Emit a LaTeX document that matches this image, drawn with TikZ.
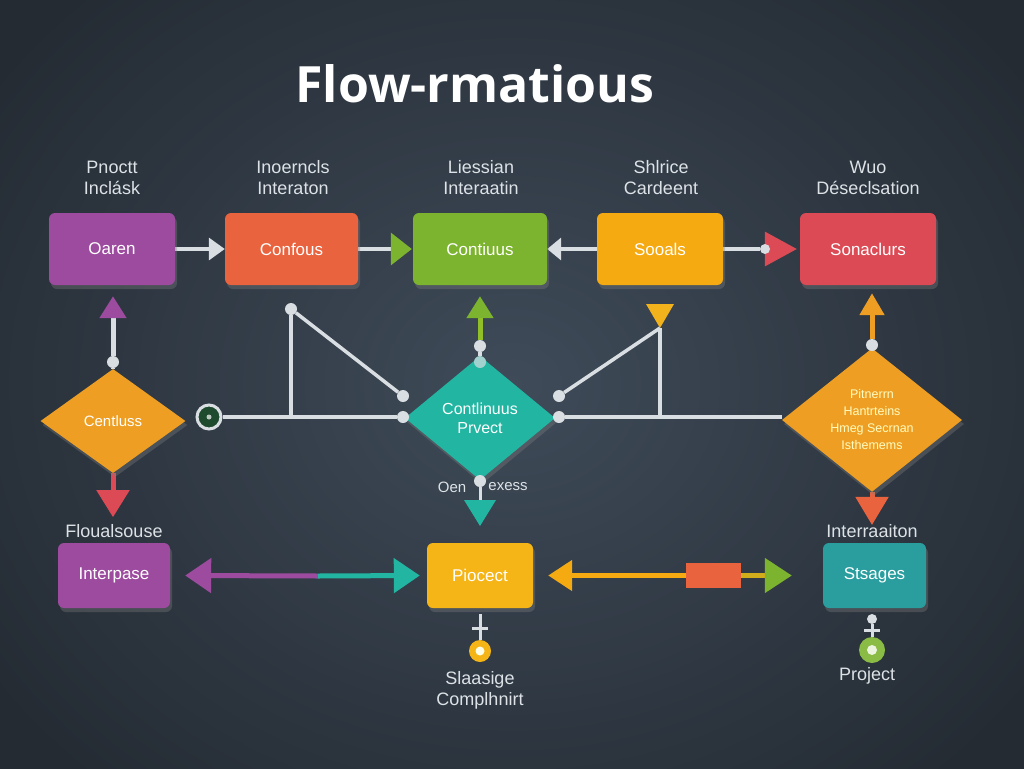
\documentclass[tikz,border=0pt]{standalone}
\usepackage{fontspec}
\setmainfont{Liberation Sans}
\newfontfamily\titlefont{Open Sans}
\usetikzlibrary{shapes.geometric,arrows.meta,shadows}
\definecolor{bgin}{HTML}{3F4B59}
\definecolor{bgout}{HTML}{242B33}
\definecolor{lbl}{HTML}{DDE2E6}
\definecolor{wire}{HTML}{D9DEE2}
\definecolor{cpurple}{HTML}{9C4B9F}
\definecolor{corange}{HTML}{E9633F}
\definecolor{cgreen}{HTML}{7DB42F}
\definecolor{cyellow}{HTML}{F5AA12}
\definecolor{cred}{HTML}{DC4B55}
\definecolor{cdia}{HTML}{EE9F23}
\definecolor{cteal}{HTML}{22B6A2}
\definecolor{cteal2}{HTML}{2A9E9F}
\definecolor{cyellow2}{HTML}{F6B517}
\definecolor{dgreen}{HTML}{1E4A2E}
\pgfdeclarelayer{back}
\pgfdeclarelayer{wires}
\pgfsetlayers{back,wires,main}
\begin{document}
\begin{tikzpicture}[x=1pt,y=-1pt,
  box/.style={rounded corners=6pt, minimum height=72pt, inner sep=0pt, text=white,
    font=\fontsize{17}{20}\selectfont,
    drop shadow={opacity=0.35, shadow xshift=2pt, shadow yshift=-4pt}},
  sbox/.style={box, minimum height=65pt},
  lbl/.style={text=lbl, font=\fontsize{18}{21}\selectfont, align=center, inner sep=0pt},
  dot/.style={circle, fill=wire, inner sep=0pt, minimum size=12pt},
  wire/.style={draw=wire, line width=3.5pt},
  dia/.style={diamond, inner sep=0pt, align=center, text=white,
    drop shadow={opacity=0.35, shadow xshift=2pt, shadow yshift=-4pt}},
  stem/.style={line width=5pt},
]
\useasboundingbox (0,0) rectangle (1024,768);
\begin{pgfonlayer}{back}
\shade[inner color=bgin, outer color=bgout] (-120,-150) rectangle (1144,918);
\end{pgfonlayer}

% title
\node[text=white, font=\titlefont\bfseries\fontsize{50}{60}\selectfont] (title) at (475,84) {Flow-rmatious};

% top labels
\node[lbl] (l1) at (112,178) {Pnoctt\\Inclásk};
\node[lbl] (l2) at (293,178) {Inoerncls\\Interaton};
\node[lbl] (l3) at (481,178) {Liessian\\Interaatin};
\node[lbl] (l4) at (661,178) {Shlrice\\Cardeent};
\node[lbl] (l5) at (868,178) {Wuo\\Déseclsation};

% top boxes
\node[box, fill=cpurple, minimum width=126pt] (b1) at (112,249) {Oaren};
\node[box, fill=corange, minimum width=133pt] (b2) at (291.5,249) {Confous};
\node[box, fill=cgreen, minimum width=134pt] (b3) at (480,249) {Contiuus};
\node[box, fill=cyellow, minimum width=126pt] (b4) at (660,249) {Sooals};
\node[box, fill=cred, minimum width=136pt] (b5) at (868,249) {Sonaclurs};

% diamonds
\node[dia, fill=cdia, minimum width=145pt, minimum height=104pt,
  font=\fontsize{15}{18}\selectfont] (d1) at (113,421) {Centluss};
\node[dia, fill=cteal, minimum width=150pt, minimum height=124pt,
  font=\fontsize{16}{19}\selectfont] (d2) at (480,418) {Contlinuus\\Prvect};
\node[dia, fill=cdia, minimum width=180pt, minimum height=136pt, text=yellow!25,
  font=\fontsize{12.5}{17}\selectfont] (d3) at (872,420) {Pitnerrn\\Hantrteins\\Hmeg Secrnan\\Isthemems};

% dots
\node[dot] (dt1) at (113,362) {};
\node[circle, fill=dgreen, draw=wire, line width=3pt, minimum size=24pt, inner sep=0pt] (gc) at (209,417) {};
\fill[white!70!dgreen] (gc) circle (2.5pt);
\node[dot] (pA) at (291,309) {};
\node[dot] (pB) at (403,396) {};
\node[dot] (pC) at (403,417) {};
\node[dot] (dt2) at (480,346) {};
\node[dot, fill=wire!70!cteal] (dt2b) at (480,362) {};
\node[dot] (pD) at (559,396) {};
\node[dot] (pE) at (559,417) {};
\node[dot] (dt3) at (872,345) {};
\node[dot] (dt4) at (480,481) {};
\node[dot, minimum size=10pt] (dt5) at (765,249) {};
\node[dot, minimum size=10pt] (dt6) at (872,619) {};
\coordinate (J1) at (291,417);
\coordinate (Q) at (660,328);
\coordinate (J2) at (660,417);

% small texts by teal bottom
\node[text=lbl, font=\fontsize{15}{18}\selectfont] (oen) at (452,487) {Oen};
\node[text=lbl, font=\fontsize{15}{18}\selectfont] (exess) at (508,487) {exess};

% bottom labels and boxes
\node[lbl] (l6) at (114,531) {Floualsouse};
\node[lbl] (l7) at (872,531) {Interraaiton};
\node[sbox, fill=cpurple, minimum width=112pt] (b6) at (114,575.5) {Interpase};
\node[sbox, fill=cyellow2, minimum width=106pt] (b7) at (480,575.5) {Piocect};
\node[sbox, fill=cteal2, minimum width=103pt] (b8) at (874.5,575.5) {Stsages};
\node[fill=corange, minimum width=55pt, minimum height=25pt, inner sep=0pt] (R) at (713.5,575.5) {};
\coordinate (M1) at (318,576);

% bottom circles
\node[circle, fill=cyellow2, minimum size=22pt, inner sep=0pt] (y1) at (480,651) {};
\fill[white!90!yellow] (y1) circle (4.5pt);
\node[circle, fill=cgreen!90!white, minimum size=26pt, inner sep=0pt] (g1) at (872,650) {};
\fill[white!85!cgreen] (g1) circle (5pt);
\node[lbl] (l8) at (480,690) {Slaasige\\Complhnirt};
\node[lbl] (l9) at (867,676) {Project};

\begin{pgfonlayer}{wires}
% top row arrows
\draw[wire, -{Triangle[length=16pt,width=22pt,color=wire]}] (b1.east) -- (b2.west);
\draw[wire, -{Triangle[length=21pt,width=32pt,color=cgreen,fill=cgreen]}] (b2.east) -- ([xshift=-1pt]b3.west);
\draw[wire, -{Triangle[length=14pt,width=22pt,color=wire]}] (b4.west) -- (b3.east);
\draw[wire] (b4.east) -- (dt5);
\draw[wire, draw=cred, -{Triangle[length=32pt,width=34pt,color=cred,fill=cred]}] (dt5) -- ([xshift=-3pt]b5.west);

% left diamond
\draw[wire] (d1.north) -- (dt1);
\draw[stem, draw=wire, -{Triangle[length=22pt,width=26pt,color=cpurple,fill=cpurple]}] (dt1) -- ([yshift=-11pt]dt1 |- b1.south);
\draw[stem, draw=cred, -{Triangle[length=27pt,width=32pt,color=cred,fill=cred]}] (d1.south) -- ++(0,44);

% middle wires
\draw[wire] (gc.east) -- (pC);
\draw[wire] (pA) -- (J1);
\draw[wire] (pA) -- (pB);
\draw[wire] (pD) -- (Q);
\draw[wire] (Q) -- (J2);
\draw[wire] (pE) -- (pE -| d3.west);
\fill[cdia!80!yellow] (646,304) -- (674,304) -- (Q) -- cycle;

% teal diamond arrows
\draw[wire] (dt2b) -- (dt2);
\draw[stem, draw=cgreen!85!yellow, -{Triangle[length=22pt,width=26pt,color=cgreen,fill=cgreen]}] (dt2) -- ([yshift=-11pt]dt2 |- b3.south);
\draw[wire, line width=3pt] (dt4) -- (480,500);
\fill[cteal] (464,500) -- (496,500) -- (480,526) -- cycle;

% right diamond arrows
\draw[wire] (d3.north) -- (dt3);
\draw[stem, draw=cdia, -{Triangle[length=22pt,width=24pt,color=cdia,fill=cdia]}] (dt3) -- ([yshift=-8pt]dt3 |- b5.south);
\draw[stem, draw=corange, -{Triangle[length=28pt,width=32pt,color=corange,fill=corange]}] (d3.south) -- ++(0,33);

% bottom double arrows
\draw[stem, draw=cpurple, -{Triangle[length=26pt,width=34pt,color=cpurple,fill=cpurple]}] (M1) -- ([xshift=15pt]b6.east);
\draw[stem, draw=cteal, -{Triangle[length=26pt,width=34pt,color=cteal,fill=cteal]}] (M1) -- ([xshift=-7pt]b7.west);
\draw[stem, draw=cyellow, -{Triangle[length=24pt,width=30pt,color=cyellow,fill=cyellow]}] (R.west) -- ([xshift=15pt]b7.east);
\draw[stem, draw=cyellow!70!cgreen, -{Triangle[length=27pt,width=34pt,color=cgreen,fill=cgreen]}] (R.east) -- ([xshift=-31pt]b8.west);

% bottom connectors
\draw[wire, line width=3pt] (480,614) -- (y1.north);
\draw[wire, line width=3pt] (472,628) -- (488,628);
\draw[wire, line width=3pt] (dt6) -- (g1.north);
\draw[wire, line width=3pt] (864,630) -- (880,630);
\end{pgfonlayer}
\end{tikzpicture}
\end{document}
